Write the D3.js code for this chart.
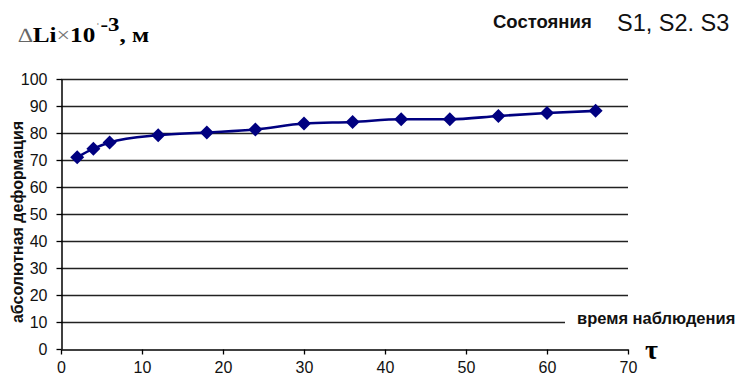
<!DOCTYPE html>
<html><head><meta charset="utf-8">
<script src="https://cdn.jsdelivr.net/npm/d3@7"></script>
<style>body{margin:0;background:#fff}svg{display:block}</style>
</head><body>
<svg id="c" width="739" height="377"></svg>
<script>
const times = [2, 4, 6, 12, 18, 24, 30, 36, 42, 48, 54, 60, 66];
const deformation = [71.0, 74.2, 76.5, 79.2, 80.2, 81.3, 83.5, 84.1, 85.1, 85.1, 86.3, 87.4, 88.2];
const xTicks = [0, 10, 20, 30, 40, 50, 60, 70];
const yTicks = [0, 10, 20, 30, 40, 50, 60, 70, 80, 90, 100];

const svg = d3.select("#c");
const x = d3.scaleLinear().domain([0, 70]).range([61, 628]);
const y = d3.scaleLinear().domain([0, 100]).range([349, 79]);
const font = "'Liberation Sans', Arial, sans-serif";

// gridlines
svg.append("g").selectAll("line").data(yTicks.filter(d => d > 0)).join("line")
  .attr("x1", x(0)).attr("x2", d => d === 10 ? 565 : x(70))
  .attr("y1", d => y(d) + 0.5).attr("y2", d => y(d) + 0.5)
  .attr("stroke", "#222").attr("stroke-width", 1.3);

// y axis
const ya = svg.append("g").attr("transform", `translate(${x(0)+0.5},0)`)
  .call(d3.axisLeft(y).tickValues(yTicks).tickSize(5).tickPadding(9).tickSizeOuter(0));
ya.select(".domain").attr("stroke", "#000").attr("stroke-width", 1.5);
ya.selectAll(".tick line").attr("stroke", "#000").attr("stroke-width", 1.3);
ya.selectAll("text").attr("font-family", font).attr("font-size", 16).attr("fill", "#111")
  .attr("dy", "0.35em");

// x axis
const xa = svg.append("g").attr("transform", `translate(0,${y(0)+0.5})`)
  .call(d3.axisBottom(x).tickValues(xTicks).tickSize(5).tickPadding(7).tickSizeOuter(0));
xa.select(".domain").attr("stroke", "#000").attr("stroke-width", 1.5);
xa.selectAll(".tick line").attr("stroke", "#000").attr("stroke-width", 1.3);
xa.selectAll("text").attr("font-family", font).attr("font-size", 16).attr("fill", "#111");

// line
const line = d3.line().x((d, i) => x(times[i])).y(d => y(d)).curve(d3.curveMonotoneX);
svg.append("path").datum(deformation).attr("d", line)
  .attr("fill", "none").attr("stroke", "#000080").attr("stroke-width", 2.6);

// markers
svg.append("g").selectAll("path").data(deformation).join("path")
  .attr("d", d3.symbol().type(d3.symbolDiamond2).size(125))
  .attr("transform", (d, i) => `translate(${x(times[i])},${y(d)})`)
  .attr("fill", "#000080");

// y title
svg.append("text").attr("transform", "translate(23,222) rotate(-90)")
  .attr("text-anchor", "middle").attr("font-family", font).attr("font-weight", "bold")
  .attr("font-size", 16).attr("fill", "#111").text("абсолютная деформация");

// top-left label
const t = svg.append("text").attr("transform", "translate(18,42) scale(1.2,1)")
  .attr("font-family", "'Liberation Serif', 'Times New Roman', serif").attr("font-size", 21);
t.append("tspan").attr("fill", "#666").attr("font-size", 20).text("∆");
t.append("tspan").attr("font-weight", "bold").text("Li");
t.append("tspan").attr("fill", "#777").attr("font-size", 20).text("×");
t.append("tspan").attr("font-weight", "bold").text("10");
t.append("tspan").attr("fill", "#888").attr("font-size", 13).attr("dy", -10).text("ˈ");
t.append("tspan").attr("font-weight", "bold").attr("font-size", 19).attr("dy", -1).text("-3");
t.append("tspan").attr("font-weight", "bold").attr("dy", 11).text(", м");

svg.append("text").attr("x", 493).attr("y", 28).attr("font-family", font)
  .attr("font-weight", "bold").attr("font-size", 18.5).attr("fill", "#111").text("Состояния");
svg.append("text").attr("x", 617).attr("y", 31).attr("font-family", font)
  .attr("font-size", 23.5).attr("fill", "#111").text("S1, S2. S3");

svg.append("text").attr("x", 577).attr("y", 324).attr("font-family", font)
  .attr("font-weight", "bold").attr("font-size", 16.5).attr("fill", "#111").text("время наблюдения");

svg.append("text").attr("x", 645).attr("y", 359)
  .attr("font-family", "'Liberation Serif', 'Times New Roman', serif")
  .attr("font-weight", "bold").attr("font-size", 28).text("τ");
</script>
</body></html>
